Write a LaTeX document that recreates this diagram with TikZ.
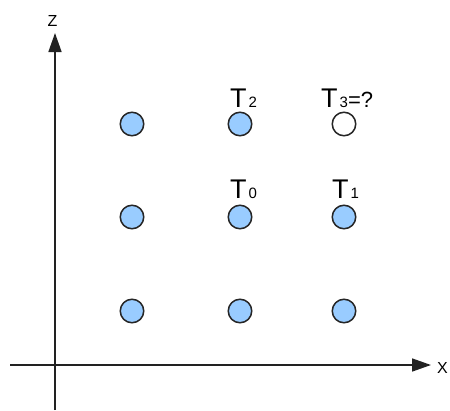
\documentclass[tikz,border=0pt]{standalone}
\usepackage{fontspec}
\setmainfont{Liberation Sans}
\usetikzlibrary{arrows.meta}
\definecolor{dotblue}{HTML}{99CCFF}
\definecolor{axisgray}{HTML}{222222}
\newcommand{\subd}[1]{\hspace{2pt}{\fontsize{15}{15}\selectfont #1}}
\begin{document}
\begin{tikzpicture}[x=1pt,y=-1pt,
  dot/.style={circle,draw=black!85,line width=1.5pt,fill=dotblue,minimum size=23.5pt,inner sep=0pt},
  hole/.style={dot,fill=white},
  axis/.style={draw=axisgray,line width=1.6pt,-{Triangle[length=19pt,width=13pt]}},
  axlbl/.style={font=\fontsize{16}{16}\selectfont,inner sep=0pt,anchor=base west},
  lbl/.style={font=\fontsize{27}{27}\selectfont,inner sep=0pt,anchor=base west}]
\useasboundingbox (0,0) rectangle (450,410);
\coordinate (zs) at (55,410);
\coordinate (ze) at (55,33);
\coordinate (xs) at (10,365);
\coordinate (xe) at (431,365);
\draw[axis] (zs) -- (ze);
\draw[axis] (xs) -- (xe);
\node[axlbl,anchor=base] (zl) at (52.5,26) {Z};
\node[axlbl] (xl) at (437,373) {X};
\node[dot] (a1) at (132,124) {};
\node[dot] (a2) at (240,124) {};
\node[hole] (a3) at (344,124) {};
\node[dot] (b1) at (132,217) {};
\node[dot] (b2) at (240,217) {};
\node[dot] (b3) at (344,217) {};
\node[dot] (c1) at (132,311) {};
\node[dot] (c2) at (240,311) {};
\node[dot] (c3) at (344,311) {};
\node[lbl] (t2) at (230,107) {T\subd{2}};
\node[lbl] (t3) at (321,107) {T\subd{3}{\fontsize{22}{22}\selectfont=?}};
\node[lbl] (t0) at (230,198) {T\subd{0}};
\node[lbl] (t1) at (332,198) {T\subd{1}};
\end{tikzpicture}
\end{document}
